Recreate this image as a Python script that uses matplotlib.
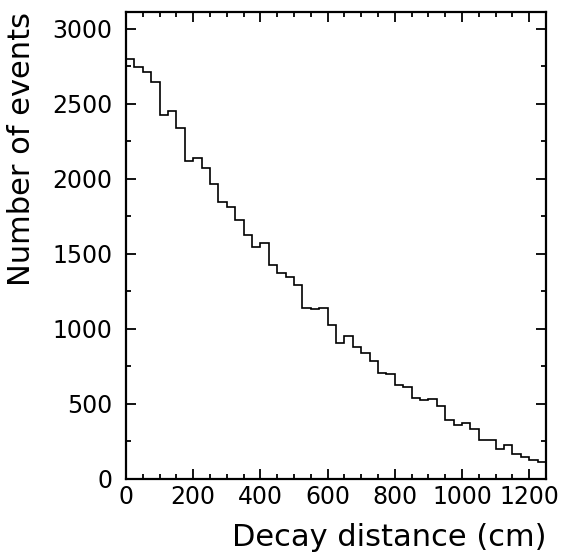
import numpy as np
import matplotlib.pyplot as plt
from matplotlib.ticker import MultipleLocator

# bin edges (cm) and bin contents
edges = np.arange(0, 1251, 25)
counts = [2794, 2741, 2710, 2646, 2423, 2453, 2338, 2117, 2139, 2071,
          1963, 1847, 1810, 1726, 1625, 1545, 1571, 1427, 1372, 1345,
          1290, 1139, 1131, 1136, 1028, 903, 950, 877, 841, 786,
          703, 701, 625, 610, 537, 526, 531, 484, 392, 359,
          376, 336, 257, 263, 202, 229, 165, 145, 125, 110]

fig = plt.figure(figsize=(5.61, 5.55), dpi=100)
ax = fig.add_axes([126/561, 1-479/555, 420/561, 467/555])

ax.stairs(counts, edges, color='black', linewidth=1.2)

ax.set_xlim(0, 1250)
ax.set_ylim(0, 3110)
ax.xaxis.set_major_locator(MultipleLocator(200))
ax.xaxis.set_minor_locator(MultipleLocator(50))
ax.yaxis.set_major_locator(MultipleLocator(500))
ax.yaxis.set_minor_locator(MultipleLocator(250))
ax.tick_params(which='both', direction='in', top=True, right=True, width=1.3)
ax.tick_params(which='major', length=7, labelsize=17)
ax.tick_params(which='minor', length=3.7)
ax.tick_params(axis='x', pad=4)
ax.tick_params(axis='y', pad=10)
for s in ax.spines.values():
    s.set_linewidth(1.6)

ax.set_xlabel('Decay distance (cm)', fontsize=22, loc='right')
ax.xaxis.set_label_coords(1.0, -0.095)
ax.set_ylabel('Number of events', fontsize=22, loc='top')
ax.yaxis.set_label_coords(-0.215, 1.0)

plt.savefig('out.png')
